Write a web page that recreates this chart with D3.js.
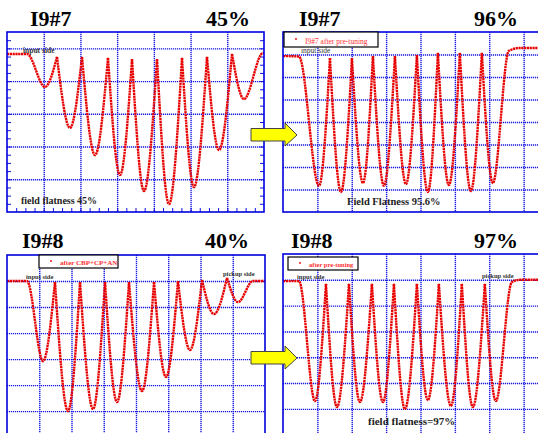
<!DOCTYPE html>
<html>
<head>
<meta charset="utf-8">
<script src="https://cdn.jsdelivr.net/npm/d3@7"></script>
<style>
  body { margin: 0; background: #fff; }
  svg { display: block; }
  .grid line { stroke: #1818e4; stroke-width: 1.4; stroke-dasharray: 1.2,0.8; }
  .grid path, .minor path { display: none; }
  .minor line { stroke: #1010e0; stroke-width: 1; }
  .serif { font-family: "Liberation Serif", "Times New Roman", serif; }
</style>
</head>
<body>
<div id="chart"></div>
<script>
// bead-pull field plots
// x: position (100 per grid division), y: signal (1 per grid division)

var p1X = [0, 54.5, 103.5, 136.2, 171.6, 204.3, 239.7, 275.1, 307.8, 340.5, 373.2, 408.6, 441.2, 476.7, 509.3, 544.7, 577.4, 612.8, 645.5, 697.3, 700];
var p1Y = [-0.17, -0.17, -1.18, -0.26, -2.43, -0.26, -3.26, -0.29, -3.87, -0.33, -4.36, -0.33, -4.76, -0.29, -4.24, -0.26, -3.11, -0.17, -1.55, -0.14, -0.14];

var p2X = [0, 46.5, 104.7, 136.6, 168.6, 200.6, 232.6, 261.6, 293.6, 325.6, 357.6, 389.5, 421.5, 450.6, 482.6, 514.5, 546.5, 578.5, 610.5, 657.0, 689.0, 747.1];
var p2Y = [-0.07, -0.09, -5.84, -0.16, -6.11, -0.16, -5.71, -0.07, -5.84, -0.07, -5.76, -0.02, -6.11, 0.07, -5.80, 0.07, -6.07, 0.07, -5.71, 0.16, 0.29, 0.29];

var p3X = [0, 62.0, 111.6, 148.8, 189.1, 226.4, 266.7, 303.9, 341.1, 378.3, 418.6, 455.8, 493.0, 530.2, 567.4, 604.7, 641.9, 682.2, 716.3, 762.8, 800];
var p3Y = [0, 0, -3.08, -0.04, -5.0, -0.04, -4.92, -0.04, -4.65, -0.04, -4.23, -0.04, -3.69, 0, -2.65, 0.04, -1.27, 0.12, -0.81, 0, 0];

var p4X = [0, 46.5, 93.0, 125.0, 157.0, 191.9, 223.8, 258.7, 290.7, 322.7, 354.7, 389.5, 421.5, 453.5, 488.4, 520.3, 552.3, 587.2, 619.2, 665.7, 689.0, 747.1];
var p4Y = [-0.05, -0.05, -4.70, -0.16, -4.93, -0.16, -4.74, -0.16, -4.74, -0.16, -5.01, -0.16, -4.66, -0.16, -4.89, -0.16, -4.93, -0.16, -4.70, -0.09, 0, 0];

var titles = ["I9#7", "I9#7", "I9#8", "I9#8"];
var flatness = ["45%", "96%", "40%", "97%"];
var notes = ["field flatness 45%", "Field Flatness 95.6%", "", "field flatness=97%"];
var legends = ["", "I9#7 after pre-tuning", "after CBP+CP+AN", "after pre-tuning"];

var svgWidth = 538;
var svgHeight = 433;

var svg = d3.select("#chart")
  .append("svg")
  .attr("width", svgWidth)
  .attr("height", svgHeight);

// panel frames (screen layout)
var panels = [
  { xs: p1X, ys: p1Y, left: 7,   top: 32,  right: 264, bottom: 212, xMax: 700, yTop: 0.5, yBot: -5,   minor: true },
  { xs: p2X, ys: p2Y, left: 283, top: 32,  right: 558, bottom: 212, xMax: 800, yTop: 1,   yBot: -7,   minor: false },
  { xs: p3X, ys: p3Y, left: 7,   top: 255, right: 265, bottom: 445, xMax: 800, yTop: 1,   yBot: -6.3, minor: false },
  { xs: p4X, ys: p4Y, left: 283, top: 254, right: 558, bottom: 445, xMax: 800, yTop: 1,   yBot: -6.4, minor: false }
];

panels.forEach(function(p, i) {
  var w = p.right - p.left;
  var h = p.bottom - p.top;

  var x = d3.scaleLinear().domain([0, p.xMax]).range([0, w]);
  var y = d3.scaleLinear().domain([p.yTop, p.yBot]).range([0, h]);

  var g = svg.append("g").attr("transform", `translate(${p.left}, ${p.top})`);

  svg.append("clipPath").attr("id", "clip" + i)
    .append("rect").attr("width", w).attr("height", h);

  // grid
  g.append("g").attr("class", "grid")
    .call(d3.axisBottom(x).tickValues(d3.range(100, p.xMax, 100)).tickSize(h).tickFormat(""));
  g.append("g").attr("class", "grid")
    .call(d3.axisLeft(y).tickValues(d3.range(0, p.yBot, -1)).tickSize(-w).tickFormat(""));

  if (p.minor) {
    g.append("g").attr("class", "minor")
      .attr("transform", `translate(0, ${h})`)
      .call(d3.axisBottom(x).tickValues(d3.range(25, p.xMax, 25)).tickSize(-4).tickFormat(""));
    g.append("g").attr("class", "minor")
      .call(d3.axisLeft(y).tickValues(d3.range(0.25, p.yBot, -0.25)).tickSize(-4).tickFormat(""));
    g.append("g").attr("class", "minor")
      .attr("transform", `translate(${w}, 0)`)
      .call(d3.axisRight(y).tickValues(d3.range(0.25, p.yBot, -0.25)).tickSize(-4).tickFormat(""));
  }

  // curve: split at the peaks so they stay sharp
  var pts = p.xs.map(function(d, j) { return [d, p.ys[j]]; });
  var segs = [];
  var cur = [pts[0]];
  for (var j = 1; j < pts.length; j++) {
    cur.push(pts[j]);
    if (j < pts.length - 1 && pts[j][1] > pts[j - 1][1] && pts[j][1] > pts[j + 1][1]) {
      segs.push(cur);
      cur = [pts[j]];
    }
  }
  segs.push(cur);

  var line = d3.line()
    .x(function(d) { return x(d[0]); })
    .y(function(d) { return y(d[1]); })
    .curve(d3.curveMonotoneX);

  g.append("g").attr("clip-path", `url(#clip${i})`)
    .selectAll("path")
    .data(segs)
    .enter()
    .append("path")
    .attr("d", line)
    .attr("fill", "none")
    .attr("stroke", "#e80000")
    .attr("stroke-width", 2.4)
    .attr("stroke-dasharray", "2.2,0.6");

  // frame
  g.append("rect")
    .attr("width", w)
    .attr("height", h)
    .attr("fill", "none")
    .attr("stroke", "#0000e0")
    .attr("stroke-width", 1.6);
});

// titles
var titlePos = [[30, 26, 250], [299, 26, 518], [22, 248, 249], [291, 248, 518]];
titles.forEach(function(t, i) {
  svg.append("text").attr("class", "serif")
    .attr("x", titlePos[i][0]).attr("y", titlePos[i][1])
    .attr("font-size", 22).attr("font-weight", "bold")
    .text(t);
  svg.append("text").attr("class", "serif")
    .attr("x", titlePos[i][2]).attr("y", titlePos[i][1])
    .attr("text-anchor", "end")
    .attr("font-size", 22).attr("font-weight", "bold")
    .text(flatness[i]);
});

// legends
var legendBox = [null, [284, 32, 94, 15, 7.5, "normal"], [39, 255, 79, 13, 7, "bold"], [288, 257, 70, 13, 6.5, "bold"]];
legends.forEach(function(t, i) {
  var b = legendBox[i];
  if (!b) return;
  svg.append("rect")
    .attr("x", b[0]).attr("y", b[1]).attr("width", b[2]).attr("height", b[3])
    .attr("fill", "#fff").attr("stroke", "#000").attr("stroke-width", 1.2);
  svg.append("circle")
    .attr("cx", b[0] + 12).attr("cy", b[1] + b[3] / 2 - 0.5).attr("r", 0.9)
    .attr("fill", "#ee0000");
  svg.append("text").attr("class", "serif")
    .attr("x", b[0] + 21).attr("y", b[1] + b[3] - 3.5)
    .attr("font-size", b[4]).attr("font-weight", b[5])
    .attr("fill", "#ff3030")
    .text(t);
});

// side labels
var sideLabels = [
  ["input side", 23, 53, 7.5, "bold"],
  ["input side", 301, 53, 7.5, "normal"],
  ["input side", 26, 279, 6.5, "bold"],
  ["pickup side", 223, 276, 6.5, "bold"],
  ["input side", 297, 279, 6.5, "bold"],
  ["pickup side", 482, 278, 6.5, "bold"]
];
sideLabels.forEach(function(s) {
  svg.append("text").attr("class", "serif")
    .attr("x", s[1]).attr("y", s[2])
    .attr("font-size", s[3]).attr("font-weight", s[4])
    .attr("fill", "#333")
    .text(s[0]);
});

// field flatness notes
var notePos = [[21, 204, 10], [347, 205, 10.5], null, [368, 425, 11]];
notes.forEach(function(t, i) {
  if (!notePos[i]) return;
  svg.append("text").attr("class", "serif")
    .attr("x", notePos[i][0]).attr("y", notePos[i][1])
    .attr("font-size", notePos[i][2]).attr("font-weight", "bold")
    .attr("fill", "#222")
    .text(t);
});

// yellow arrows between panels
[135, 358].forEach(function(cy) {
  svg.append("polygon")
    .attr("points", [[251, cy - 6.5], [285, cy - 6.5], [285, cy - 12], [297, cy], [285, cy + 11], [285, cy + 6], [251, cy + 6]].join(" "))
    .attr("fill", "#ffff00")
    .attr("stroke", "#444")
    .attr("stroke-width", 1);
});
</script>
</body>
</html>
